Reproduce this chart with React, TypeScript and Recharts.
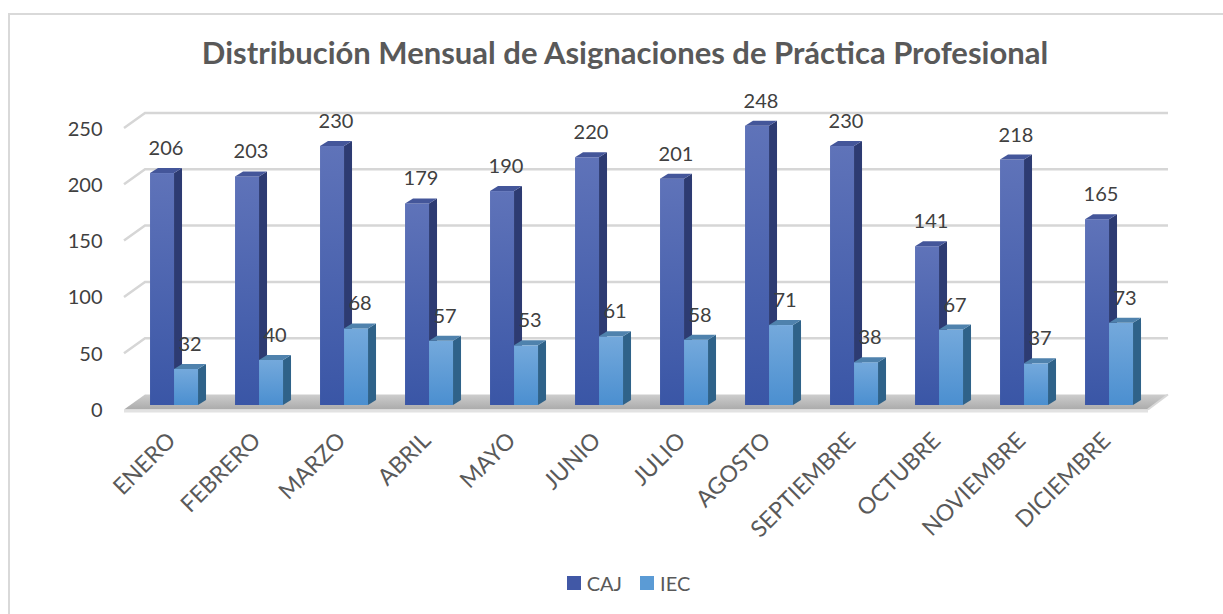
import React from "react";
import { BarChart, Bar, XAxis, YAxis, CartesianGrid, Legend, LabelList } from "recharts";

const months = [
  "ENERO", "FEBRERO", "MARZO", "ABRIL", "MAYO", "JUNIO",
  "JULIO", "AGOSTO", "SEPTIEMBRE", "OCTUBRE", "NOVIEMBRE", "DICIEMBRE",
];
const caj = [206, 203, 230, 179, 190, 220, 201, 248, 230, 141, 218, 165];
const iec = [32, 40, 68, 57, 53, 61, 58, 71, 38, 67, 37, 73];
const yTicks = [0, 50, 100, 150, 200, 250];

const data = months.map((m, i) => ({ month: m, CAJ: caj[i], IEC: iec[i] }));

const FONT = "Lato, 'Open Sans', sans-serif";
// depth of each bar box, and offset of the back wall
const DX = 8;
const DY = 5;
const WALL_DX = 13.5;
const WALL_DY = 10.5;
const FRONT_DX = 7.5;
const FRONT_DY = 4.5;

const colors = {
  CAJ: { front: "url(#cajFront)", side: "#2d3b72", top: "#44569a", legend: "#4158a6" },
  IEC: { front: "url(#iecFront)", side: "#2f6289", top: "#4f82ad", legend: "#5b9bd5" },
};

function Box3D(props: any) {
  const { x, y, width, height, c } = props;
  if (!height || height <= 0) return null;
  const r = x + width;
  const b = y + height;
  return (
    <g>
      <rect x={x} y={y} width={width} height={height} fill={c.front} />
      <path d={`M${r},${y} L${r + DX},${y - DY} L${r + DX},${b - DY} L${r},${b} Z`} fill={c.side} />
      <path d={`M${x},${y} L${x + DX},${y - DY} L${r + DX},${y - DY} L${r},${y} Z`} fill={c.top} />
    </g>
  );
}

function GridLine(props: any) {
  const { x1, x2, y1, y, height } = props;
  const isFloor = y != null && height != null && Math.abs(y1 - (y + height)) < 1;
  const fx = x1 - FRONT_DX;
  const bx = x1 + WALL_DX;
  const ex = x2 + 16.5;
  if (isFloor) {
    return (
      <g>
        <path
          d={`M${fx},${y1 + FRONT_DY} L${bx},${y1 - WALL_DY} L${ex},${y1 - WALL_DY} L${ex - 20},${y1 + FRONT_DY} Z`}
          fill="url(#floor)"
        />
        <path
          d={`M${fx},${y1 + FRONT_DY} L${ex - 20},${y1 + FRONT_DY} L${ex - 20},${y1 + FRONT_DY + 3} L${fx},${y1 + FRONT_DY + 3} Z`}
          fill="#e2e2e2"
        />
        <path d={`M${ex - 20},${y1 + FRONT_DY} L${ex},${y1 - WALL_DY}`} stroke="#d8d8d8" strokeWidth={2} />
      </g>
    );
  }
  return (
    <path
      d={`M${fx},${y1 + FRONT_DY} L${bx},${y1 - WALL_DY} L${ex},${y1 - WALL_DY}`}
      stroke="#d6d6d6"
      strokeWidth={2.5}
      fill="none"
    />
  );
}

function YTick(props: any) {
  const { x, y, payload } = props;
  return (
    <text x={x - 29} y={y + 4} textAnchor="end" dominantBaseline="central" fill="#404040" fontSize={20} fontFamily={FONT}>
      {payload.value}
    </text>
  );
}

function XTick(props: any) {
  const { x, y, payload } = props;
  const ax = x + 3;
  const ay = y + 29;
  return (
    <text
      x={ax}
      y={ay}
      textAnchor="end"
      transform={`rotate(-45 ${ax} ${ay})`}
      fill="#595959"
      fontSize={23}
      fontFamily={FONT}
    >
      {payload.value}
    </text>
  );
}

function ValueLabel(props: any) {
  const { x, y, width, value } = props;
  return (
    <text x={x + width / 2 + DX / 2} y={y - 18} textAnchor="middle" fill="#404040" fontSize={20} fontFamily={FONT}>
      {value}
    </text>
  );
}

function LegendContent(props: any) {
  const items = props.payload || [];
  return (
    <div style={{ display: "flex", justifyContent: "center", gap: 18, paddingLeft: 34, fontFamily: FONT, fontSize: 20, color: "#595959" }}>
      {items.map((it: any) => (
        <div key={it.value} style={{ display: "flex", alignItems: "center", gap: 6 }}>
          <span style={{ display: "inline-block", width: 14, height: 14, background: colors[it.value as "CAJ" | "IEC"].legend }} />
          <span>{it.value}</span>
        </div>
      ))}
    </div>
  );
}

export default function App() {
  return (
    <div style={{ position: "absolute", left: 0, top: 0, width: 1223, height: 614, background: "#fff", overflow: "hidden" }}>
      <div style={{ position: "absolute", left: 8, top: 13, width: 1300, height: 700, borderLeft: "2px solid #d9d9d9", borderTop: "2px solid #d9d9d9" }} />
      <div
        style={{
          position: "absolute",
          left: 0,
          top: 33,
          width: 1250,
          textAlign: "center",
          fontFamily: FONT,
          fontWeight: 700,
          fontSize: 31,
          lineHeight: "38px",
          color: "#595959",
        }}
      >
        Distribución Mensual de Asignaciones de Práctica Profesional
      </div>
      <div style={{ position: "absolute", left: 0, top: 0 }}>
        <BarChart
          width={1223}
          height={614}
          data={data}
          barGap={0}
          barCategoryGap="21.8%"
          margin={{ top: 123.5, right: 71.5, bottom: 79, left: 101.5 }}
        >
          <defs>
            <linearGradient id="cajFront" x1="0" y1="0" x2="0" y2="1">
              <stop offset="0%" stopColor="#5f73b9" />
              <stop offset="100%" stopColor="#3a56a6" />
            </linearGradient>
            <linearGradient id="iecFront" x1="0" y1="0" x2="0" y2="1">
              <stop offset="0%" stopColor="#74a9dc" />
              <stop offset="100%" stopColor="#4b8fd0" />
            </linearGradient>
            <linearGradient id="floor" x1="0" y1="0" x2="0" y2="1">
              <stop offset="0%" stopColor="#cdcdcd" />
              <stop offset="100%" stopColor="#ababab" />
            </linearGradient>
          </defs>
          <CartesianGrid vertical={false} horizontal={(p: any) => <GridLine {...p} />} />
          <XAxis dataKey="month" axisLine={false} tickLine={false} interval={0} height={100} tick={<XTick />} />
          <YAxis
            domain={[0, 250]}
            ticks={yTicks}
            width={30}
            axisLine={false}
            tickLine={false}
            tickSize={0}
            tickMargin={0}
            tick={<YTick />}
          />
          <Legend height={30} content={<LegendContent />} wrapperStyle={{ left: 0, top: 571, width: 1223 }} />
          <Bar dataKey="CAJ" fill="#4158a6" isAnimationActive={false} shape={(p: any) => <Box3D {...p} c={colors.CAJ} />}>
            <LabelList dataKey="CAJ" content={<ValueLabel />} />
          </Bar>
          <Bar dataKey="IEC" fill="#5b9bd5" isAnimationActive={false} shape={(p: any) => <Box3D {...p} c={colors.IEC} />}>
            <LabelList dataKey="IEC" content={<ValueLabel />} />
          </Bar>
        </BarChart>
      </div>
    </div>
  );
}
